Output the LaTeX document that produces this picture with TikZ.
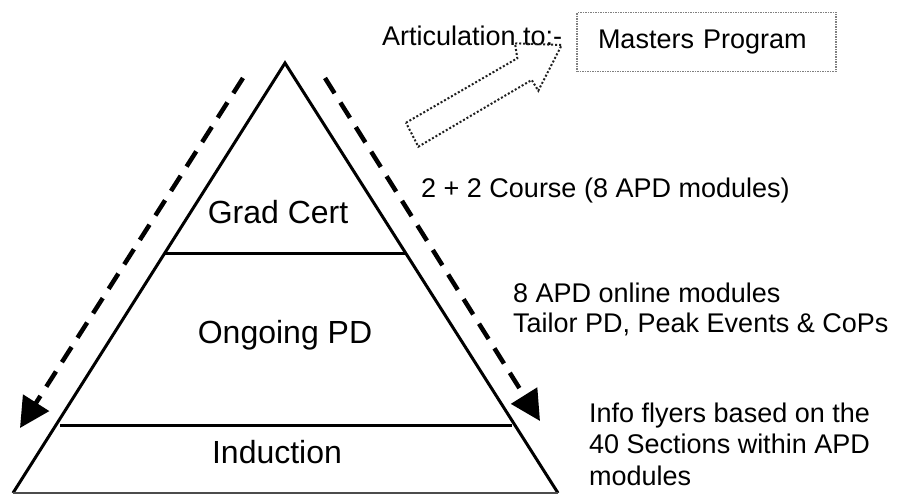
\documentclass[tikz,border=0pt]{standalone}
\usepackage{fontspec}
\setmainfont{Liberation Sans}
\usetikzlibrary{arrows.meta}
\tikzset{
  level/.style={font=\fontsize{32}{36}\selectfont, anchor=base, inner sep=0pt},
  note/.style={font=\fontsize{27}{30}\selectfont, anchor=base west, align=left, inner sep=0pt},
  flow/.style={line width=4.5pt, dash pattern=on 18pt off 11pt, -{Triangle[length=30pt,width=30pt]}},
  tier/.style={line width=3pt},
}
\begin{document}
\begin{tikzpicture}[x=1pt,y=-1pt]
  \useasboundingbox (0,0) rectangle (906,495);
  % pyramid
  \coordinate (top) at (285,63);
  \coordinate (bl) at (13,493);
  \coordinate (br) at (558,493);
  \draw[tier, line join=miter] (bl) -- (top) -- (br);
  \draw[line width=1.5pt, gray!60!black] (bl) -- (br);
  \draw[tier] (165,253) -- (405,253);
  \draw[tier] (60,425) -- (512,425);
  \node[level] (grad) at (278,223) {Grad Cert};
  \node[level] (ongoing) at (285,343) {Ongoing PD};
  \node[level] (induct) at (277,463) {Induction};
  % flow down the sides
  \coordinate (lstart) at (243,78);
  \coordinate (lend) at (20,428);
  \coordinate (rstart) at (325,78);
  \coordinate (rend) at (540,421);
  \draw[flow] (lstart) -- (lend);
  \draw[flow] (rstart) -- (rend);
  % articulation
  \node[note] (artic) at (382,46) {Articulation to:-};
  \draw[dotted, line width=2pt, gray!25!black, line join=miter]
    (406,122.7) -- (517.3,58.3) -- (515,43.3) -- (561.7,45)
    -- (538.3,90.7) -- (531.7,80) -- (418.3,146.7) -- cycle;
  \node[draw=gray, densely dotted, line width=1.5pt, minimum width=259pt,
        minimum height=59pt, inner xsep=21pt, text width=217pt, align=left,
        font=\fontsize{27}{30}\selectfont] (masters) at (706.5,42) {Masters Program};
  % notes (base = last line)
  \node[note] (course) at (421,197) {2 + 2 Course (8 APD modules)};
  \node[note] (online) at (513,332) {8 APD online modules\\Tailor PD, Peak Events \& CoPs};
  \node[note, font=\fontsize{27}{31.5}\selectfont] (flyers) at (589,485) {Info flyers based on the\\40 Sections within APD\\modules};
\end{tikzpicture}
\end{document}
